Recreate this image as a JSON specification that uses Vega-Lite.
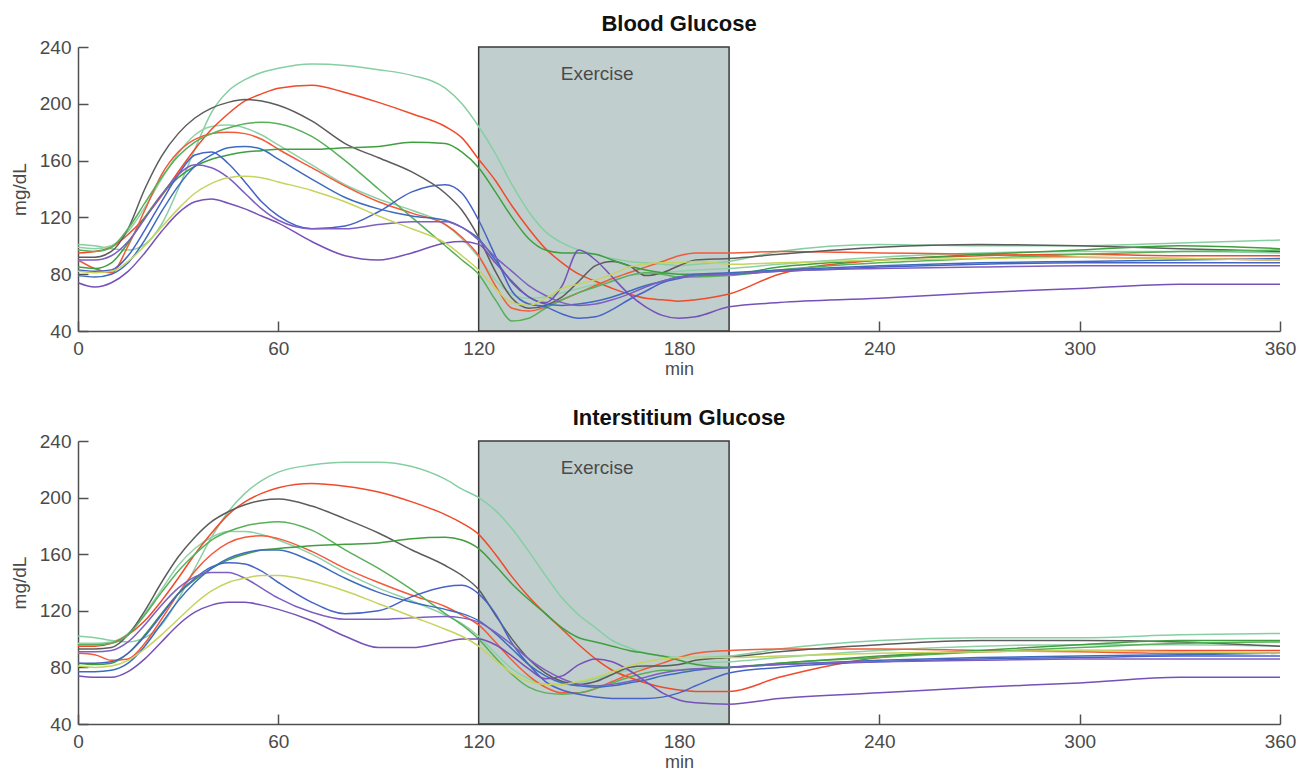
{
"$schema": "https://vega.github.io/schema/vega-lite/v6.json",
"background": "white",
"padding": {"left": 10, "top": 13, "right": 5, "bottom": 0},
"config": {
 "font": "Liberation Sans",
 "view": {"stroke": null},
 "axis": {"domainColor": "#505050", "tickColor": "#505050", "labelColor": "#4a4a4a", "titleColor": "#4a4a4a", "labelFontSize": 19, "titleFontSize": 19, "titleFontWeight": "normal", "grid": false, "tickSize": -10, "domainWidth": 1.5, "tickWidth": 1.5, "labelFlush": false, "labelOverlap": false},
 "axisX": {"labelPadding": 18, "titlePadding": 2, "titleFontSize": 18},
 "axisY": {"labelPadding": 17, "titlePadding": 10},
 "title": {"fontSize": 22, "fontWeight": "bold", "color": "#111111", "anchor": "middle", "offset": 2},
 "concat": {"spacing": 29}
},
"datasets": {
 "ex": [{"x": 120, "x2": 195, "y": 40, "y2": 240, "label": "Exercise", "tx": 155.5, "ty": 221}],
 "g": [
{"s":"S1","t":0,"b":101,"i":102},{"s":"S1","t":5,"b":100,"i":101},{"s":"S1","t":10,"b":98,"i":99},{"s":"S1","t":15,"b":97,"i":98},{"s":"S1","t":20,"b":101,"i":101},{"s":"S1","t":25,"b":115,"i":110},{"s":"S1","t":30,"b":140,"i":128},{"s":"S1","t":35,"b":168,"i":150},{"s":"S1","t":40,"b":194,"i":172},{"s":"S1","t":45,"b":209,"i":190},{"s":"S1","t":50,"b":217,"i":203},{"s":"S1","t":55,"b":222,"i":212},{"s":"S1","t":60,"b":225,"i":218},{"s":"S1","t":70,"b":228,"i":223},{"s":"S1","t":80,"b":227,"i":225},{"s":"S1","t":90,"b":224,"i":225},{"s":"S1","t":100,"b":220,"i":222},{"s":"S1","t":110,"b":211,"i":213},{"s":"S1","t":115,"b":200,"i":206},{"s":"S1","t":120,"b":184,"i":200},{"s":"S1","t":125,"b":165,"i":191},{"s":"S1","t":130,"b":143,"i":178},{"s":"S1","t":135,"b":124,"i":162},{"s":"S1","t":140,"b":110,"i":145},{"s":"S1","t":145,"b":102,"i":129},{"s":"S1","t":150,"b":97,"i":117},{"s":"S1","t":155,"b":94,"i":108},{"s":"S1","t":160,"b":91,"i":99},{"s":"S1","t":165,"b":89,"i":94},{"s":"S1","t":170,"b":88,"i":90},{"s":"S1","t":175,"b":87,"i":88},{"s":"S1","t":180,"b":86,"i":87},{"s":"S1","t":185,"b":87,"i":87},{"s":"S1","t":195,"b":89,"i":88},{"s":"S1","t":210,"b":96,"i":93},{"s":"S1","t":240,"b":101,"i":99},{"s":"S1","t":270,"b":100,"i":101},{"s":"S1","t":300,"b":100,"i":101},{"s":"S1","t":330,"b":102,"i":103},{"s":"S1","t":360,"b":104,"i":104},
{"s":"S2","t":0,"b":99,"i":97},{"s":"S2","t":5,"b":98,"i":97},{"s":"S2","t":10,"b":100,"i":98},{"s":"S2","t":15,"b":110,"i":104},{"s":"S2","t":20,"b":127,"i":118},{"s":"S2","t":25,"b":147,"i":135},{"s":"S2","t":30,"b":165,"i":152},{"s":"S2","t":35,"b":178,"i":164},{"s":"S2","t":40,"b":184,"i":172},{"s":"S2","t":45,"b":185,"i":176},{"s":"S2","t":50,"b":183,"i":176},{"s":"S2","t":55,"b":178,"i":174},{"s":"S2","t":60,"b":171,"i":170},{"s":"S2","t":70,"b":157,"i":160},{"s":"S2","t":80,"b":143,"i":147},{"s":"S2","t":90,"b":133,"i":136},{"s":"S2","t":100,"b":125,"i":127},{"s":"S2","t":110,"b":115,"i":117},{"s":"S2","t":115,"b":105,"i":111},{"s":"S2","t":120,"b":92,"i":102},{"s":"S2","t":125,"b":76,"i":90},{"s":"S2","t":130,"b":66,"i":79},{"s":"S2","t":135,"b":63,"i":72},{"s":"S2","t":140,"b":64,"i":68},{"s":"S2","t":145,"b":67,"i":68},{"s":"S2","t":150,"b":70,"i":69},{"s":"S2","t":155,"b":73,"i":72},{"s":"S2","t":160,"b":76,"i":75},{"s":"S2","t":165,"b":79,"i":78},{"s":"S2","t":170,"b":80,"i":80},{"s":"S2","t":175,"b":81,"i":81},{"s":"S2","t":180,"b":82,"i":82},{"s":"S2","t":185,"b":83,"i":83},{"s":"S2","t":195,"b":84,"i":84},{"s":"S2","t":210,"b":87,"i":87},{"s":"S2","t":240,"b":92,"i":92},{"s":"S2","t":270,"b":95,"i":95},{"s":"S2","t":300,"b":96,"i":96},{"s":"S2","t":330,"b":96,"i":96},{"s":"S2","t":360,"b":95,"i":95},
{"s":"R1","t":0,"b":95,"i":95},{"s":"R1","t":5,"b":96,"i":95},{"s":"R1","t":10,"b":99,"i":97},{"s":"R1","t":15,"b":108,"i":103},{"s":"R1","t":20,"b":120,"i":113},{"s":"R1","t":25,"b":135,"i":127},{"s":"R1","t":30,"b":152,"i":143},{"s":"R1","t":35,"b":168,"i":160},{"s":"R1","t":40,"b":182,"i":175},{"s":"R1","t":45,"b":193,"i":188},{"s":"R1","t":50,"b":202,"i":197},{"s":"R1","t":55,"b":207,"i":203},{"s":"R1","t":60,"b":211,"i":207},{"s":"R1","t":70,"b":213,"i":210},{"s":"R1","t":80,"b":208,"i":208},{"s":"R1","t":90,"b":201,"i":204},{"s":"R1","t":100,"b":193,"i":197},{"s":"R1","t":110,"b":184,"i":188},{"s":"R1","t":115,"b":176,"i":182},{"s":"R1","t":120,"b":161,"i":174},{"s":"R1","t":125,"b":146,"i":160},{"s":"R1","t":130,"b":128,"i":144},{"s":"R1","t":135,"b":112,"i":130},{"s":"R1","t":140,"b":98,"i":118},{"s":"R1","t":145,"b":88,"i":107},{"s":"R1","t":150,"b":80,"i":96},{"s":"R1","t":155,"b":75,"i":86},{"s":"R1","t":160,"b":70,"i":78},{"s":"R1","t":165,"b":66,"i":73},{"s":"R1","t":170,"b":63,"i":69},{"s":"R1","t":175,"b":62,"i":66},{"s":"R1","t":180,"b":61,"i":64},{"s":"R1","t":185,"b":62,"i":63},{"s":"R1","t":195,"b":66,"i":63},{"s":"R1","t":210,"b":80,"i":73},{"s":"R1","t":240,"b":90,"i":87},{"s":"R1","t":270,"b":93,"i":91},{"s":"R1","t":300,"b":94,"i":92},{"s":"R1","t":330,"b":93,"i":92},{"s":"R1","t":360,"b":93,"i":92},
{"s":"R2","t":0,"b":90,"i":90},{"s":"R2","t":5,"b":84,"i":89},{"s":"R2","t":10,"b":81,"i":85},{"s":"R2","t":15,"b":100,"i":86},{"s":"R2","t":20,"b":125,"i":97},{"s":"R2","t":25,"b":150,"i":114},{"s":"R2","t":30,"b":166,"i":132},{"s":"R2","t":35,"b":175,"i":148},{"s":"R2","t":40,"b":179,"i":160},{"s":"R2","t":45,"b":180,"i":168},{"s":"R2","t":50,"b":179,"i":172},{"s":"R2","t":55,"b":175,"i":173},{"s":"R2","t":60,"b":168,"i":171},{"s":"R2","t":70,"b":155,"i":162},{"s":"R2","t":80,"b":142,"i":150},{"s":"R2","t":90,"b":131,"i":140},{"s":"R2","t":100,"b":123,"i":131},{"s":"R2","t":110,"b":115,"i":123},{"s":"R2","t":115,"b":106,"i":117},{"s":"R2","t":120,"b":93,"i":110},{"s":"R2","t":125,"b":72,"i":98},{"s":"R2","t":130,"b":56,"i":85},{"s":"R2","t":135,"b":54,"i":74},{"s":"R2","t":140,"b":57,"i":66},{"s":"R2","t":145,"b":62,"i":62},{"s":"R2","t":150,"b":67,"i":62},{"s":"R2","t":155,"b":72,"i":65},{"s":"R2","t":160,"b":77,"i":70},{"s":"R2","t":165,"b":81,"i":75},{"s":"R2","t":170,"b":85,"i":79},{"s":"R2","t":175,"b":89,"i":83},{"s":"R2","t":180,"b":93,"i":87},{"s":"R2","t":185,"b":95,"i":90},{"s":"R2","t":195,"b":95,"i":92},{"s":"R2","t":210,"b":96,"i":93},{"s":"R2","t":240,"b":95,"i":93},{"s":"R2","t":270,"b":94,"i":92},{"s":"R2","t":300,"b":92,"i":91},{"s":"R2","t":330,"b":91,"i":90},{"s":"R2","t":360,"b":90,"i":90},
{"s":"K1","t":0,"b":92,"i":93},{"s":"K1","t":5,"b":92,"i":93},{"s":"K1","t":10,"b":96,"i":94},{"s":"K1","t":15,"b":112,"i":103},{"s":"K1","t":20,"b":140,"i":120},{"s":"K1","t":25,"b":163,"i":140},{"s":"K1","t":30,"b":179,"i":158},{"s":"K1","t":35,"b":190,"i":172},{"s":"K1","t":40,"b":197,"i":183},{"s":"K1","t":45,"b":201,"i":190},{"s":"K1","t":50,"b":203,"i":195},{"s":"K1","t":55,"b":202,"i":198},{"s":"K1","t":60,"b":199,"i":199},{"s":"K1","t":70,"b":188,"i":194},{"s":"K1","t":80,"b":172,"i":185},{"s":"K1","t":90,"b":162,"i":175},{"s":"K1","t":100,"b":152,"i":163},{"s":"K1","t":110,"b":137,"i":152},{"s":"K1","t":115,"b":125,"i":145},{"s":"K1","t":120,"b":106,"i":135},{"s":"K1","t":125,"b":82,"i":117},{"s":"K1","t":130,"b":63,"i":100},{"s":"K1","t":135,"b":56,"i":86},{"s":"K1","t":140,"b":58,"i":76},{"s":"K1","t":145,"b":64,"i":70},{"s":"K1","t":150,"b":75,"i":68},{"s":"K1","t":155,"b":86,"i":70},{"s":"K1","t":160,"b":89,"i":75},{"s":"K1","t":165,"b":86,"i":80},{"s":"K1","t":170,"b":79,"i":81},{"s":"K1","t":175,"b":81,"i":81},{"s":"K1","t":180,"b":86,"i":82},{"s":"K1","t":185,"b":90,"i":85},{"s":"K1","t":195,"b":91,"i":87},{"s":"K1","t":210,"b":94,"i":91},{"s":"K1","t":240,"b":99,"i":96},{"s":"K1","t":270,"b":101,"i":99},{"s":"K1","t":300,"b":100,"i":99},{"s":"K1","t":330,"b":98,"i":98},{"s":"K1","t":360,"b":96,"i":95},
{"s":"G1","t":0,"b":97,"i":96},{"s":"G1","t":5,"b":96,"i":96},{"s":"G1","t":10,"b":99,"i":97},{"s":"G1","t":15,"b":112,"i":103},{"s":"G1","t":20,"b":130,"i":117},{"s":"G1","t":25,"b":148,"i":133},{"s":"G1","t":30,"b":163,"i":148},{"s":"G1","t":35,"b":173,"i":160},{"s":"G1","t":40,"b":179,"i":170},{"s":"G1","t":45,"b":183,"i":176},{"s":"G1","t":50,"b":186,"i":180},{"s":"G1","t":55,"b":187,"i":182},{"s":"G1","t":60,"b":186,"i":183},{"s":"G1","t":70,"b":177,"i":177},{"s":"G1","t":80,"b":160,"i":163},{"s":"G1","t":90,"b":140,"i":150},{"s":"G1","t":100,"b":120,"i":135},{"s":"G1","t":110,"b":100,"i":118},{"s":"G1","t":115,"b":90,"i":110},{"s":"G1","t":120,"b":80,"i":100},{"s":"G1","t":125,"b":62,"i":87},{"s":"G1","t":130,"b":47,"i":75},{"s":"G1","t":135,"b":49,"i":66},{"s":"G1","t":140,"b":56,"i":62},{"s":"G1","t":145,"b":62,"i":61},{"s":"G1","t":150,"b":67,"i":62},{"s":"G1","t":155,"b":71,"i":65},{"s":"G1","t":160,"b":75,"i":69},{"s":"G1","t":165,"b":79,"i":73},{"s":"G1","t":170,"b":81,"i":76},{"s":"G1","t":175,"b":80,"i":78},{"s":"G1","t":180,"b":78,"i":78},{"s":"G1","t":185,"b":78,"i":79},{"s":"G1","t":195,"b":79,"i":80},{"s":"G1","t":210,"b":83,"i":83},{"s":"G1","t":240,"b":88,"i":87},{"s":"G1","t":270,"b":91,"i":91},{"s":"G1","t":300,"b":94,"i":94},{"s":"G1","t":330,"b":96,"i":97},{"s":"G1","t":360,"b":97,"i":98},
{"s":"G2","t":0,"b":85,"i":83},{"s":"G2","t":5,"b":84,"i":82},{"s":"G2","t":10,"b":88,"i":83},{"s":"G2","t":15,"b":102,"i":90},{"s":"G2","t":20,"b":120,"i":103},{"s":"G2","t":25,"b":136,"i":118},{"s":"G2","t":30,"b":148,"i":132},{"s":"G2","t":35,"b":156,"i":142},{"s":"G2","t":40,"b":161,"i":150},{"s":"G2","t":45,"b":164,"i":156},{"s":"G2","t":50,"b":166,"i":160},{"s":"G2","t":55,"b":167,"i":163},{"s":"G2","t":60,"b":168,"i":164},{"s":"G2","t":70,"b":168,"i":166},{"s":"G2","t":80,"b":169,"i":167},{"s":"G2","t":90,"b":170,"i":168},{"s":"G2","t":100,"b":173,"i":171},{"s":"G2","t":110,"b":172,"i":172},{"s":"G2","t":115,"b":166,"i":170},{"s":"G2","t":120,"b":155,"i":164},{"s":"G2","t":125,"b":138,"i":152},{"s":"G2","t":130,"b":120,"i":139},{"s":"G2","t":135,"b":105,"i":128},{"s":"G2","t":140,"b":97,"i":118},{"s":"G2","t":145,"b":95,"i":108},{"s":"G2","t":150,"b":95,"i":101},{"s":"G2","t":155,"b":94,"i":98},{"s":"G2","t":160,"b":90,"i":95},{"s":"G2","t":165,"b":86,"i":92},{"s":"G2","t":170,"b":83,"i":90},{"s":"G2","t":175,"b":81,"i":88},{"s":"G2","t":180,"b":80,"i":85},{"s":"G2","t":185,"b":80,"i":82},{"s":"G2","t":195,"b":80,"i":80},{"s":"G2","t":210,"b":85,"i":83},{"s":"G2","t":240,"b":90,"i":88},{"s":"G2","t":270,"b":94,"i":92},{"s":"G2","t":300,"b":97,"i":96},{"s":"G2","t":330,"b":100,"i":99},{"s":"G2","t":360,"b":98,"i":99},
{"s":"B1","t":0,"b":83,"i":83},{"s":"B1","t":5,"b":82,"i":83},{"s":"B1","t":10,"b":83,"i":84},{"s":"B1","t":15,"b":93,"i":90},{"s":"B1","t":20,"b":111,"i":102},{"s":"B1","t":25,"b":131,"i":117},{"s":"B1","t":30,"b":150,"i":132},{"s":"B1","t":35,"b":164,"i":143},{"s":"B1","t":40,"b":166,"i":151},{"s":"B1","t":45,"b":158,"i":154},{"s":"B1","t":50,"b":145,"i":153},{"s":"B1","t":55,"b":131,"i":148},{"s":"B1","t":60,"b":121,"i":140},{"s":"B1","t":70,"b":112,"i":126},{"s":"B1","t":80,"b":114,"i":118},{"s":"B1","t":90,"b":124,"i":120},{"s":"B1","t":100,"b":138,"i":130},{"s":"B1","t":110,"b":143,"i":137},{"s":"B1","t":115,"b":137,"i":138},{"s":"B1","t":120,"b":118,"i":132},{"s":"B1","t":125,"b":93,"i":118},{"s":"B1","t":130,"b":68,"i":97},{"s":"B1","t":135,"b":59,"i":82},{"s":"B1","t":140,"b":57,"i":70},{"s":"B1","t":145,"b":52,"i":64},{"s":"B1","t":150,"b":49,"i":61},{"s":"B1","t":155,"b":50,"i":59},{"s":"B1","t":160,"b":55,"i":58},{"s":"B1","t":165,"b":62,"i":58},{"s":"B1","t":170,"b":68,"i":58},{"s":"B1","t":175,"b":74,"i":59},{"s":"B1","t":180,"b":77,"i":62},{"s":"B1","t":185,"b":79,"i":67},{"s":"B1","t":195,"b":80,"i":76},{"s":"B1","t":210,"b":82,"i":80},{"s":"B1","t":240,"b":85,"i":84},{"s":"B1","t":270,"b":87,"i":86},{"s":"B1","t":300,"b":88,"i":87},{"s":"B1","t":330,"b":88,"i":88},{"s":"B1","t":360,"b":88,"i":88},
{"s":"B2","t":0,"b":79,"i":77},{"s":"B2","t":5,"b":78,"i":77},{"s":"B2","t":10,"b":80,"i":78},{"s":"B2","t":15,"b":88,"i":83},{"s":"B2","t":20,"b":104,"i":95},{"s":"B2","t":25,"b":124,"i":111},{"s":"B2","t":30,"b":142,"i":127},{"s":"B2","t":35,"b":156,"i":140},{"s":"B2","t":40,"b":164,"i":150},{"s":"B2","t":45,"b":169,"i":157},{"s":"B2","t":50,"b":170,"i":161},{"s":"B2","t":55,"b":168,"i":163},{"s":"B2","t":60,"b":161,"i":163},{"s":"B2","t":70,"b":147,"i":155},{"s":"B2","t":80,"b":134,"i":143},{"s":"B2","t":90,"b":126,"i":133},{"s":"B2","t":100,"b":121,"i":126},{"s":"B2","t":110,"b":118,"i":121},{"s":"B2","t":115,"b":113,"i":118},{"s":"B2","t":120,"b":105,"i":113},{"s":"B2","t":125,"b":90,"i":104},{"s":"B2","t":130,"b":74,"i":93},{"s":"B2","t":135,"b":64,"i":82},{"s":"B2","t":140,"b":59,"i":74},{"s":"B2","t":145,"b":58,"i":69},{"s":"B2","t":150,"b":59,"i":67},{"s":"B2","t":155,"b":61,"i":66},{"s":"B2","t":160,"b":64,"i":67},{"s":"B2","t":165,"b":68,"i":69},{"s":"B2","t":170,"b":72,"i":71},{"s":"B2","t":175,"b":75,"i":74},{"s":"B2","t":180,"b":78,"i":76},{"s":"B2","t":185,"b":80,"i":78},{"s":"B2","t":195,"b":81,"i":80},{"s":"B2","t":210,"b":83,"i":82},{"s":"B2","t":240,"b":86,"i":85},{"s":"B2","t":270,"b":88,"i":87},{"s":"B2","t":300,"b":89,"i":88},{"s":"B2","t":330,"b":90,"i":89},{"s":"B2","t":360,"b":91,"i":90},
{"s":"P1","t":0,"b":90,"i":91},{"s":"P1","t":5,"b":90,"i":91},{"s":"P1","t":10,"b":93,"i":92},{"s":"P1","t":15,"b":103,"i":98},{"s":"P1","t":20,"b":119,"i":110},{"s":"P1","t":25,"b":136,"i":124},{"s":"P1","t":30,"b":150,"i":136},{"s":"P1","t":35,"b":157,"i":144},{"s":"P1","t":40,"b":155,"i":147},{"s":"P1","t":45,"b":148,"i":147},{"s":"P1","t":50,"b":137,"i":143},{"s":"P1","t":55,"b":126,"i":136},{"s":"P1","t":60,"b":118,"i":129},{"s":"P1","t":70,"b":112,"i":119},{"s":"P1","t":80,"b":112,"i":114},{"s":"P1","t":90,"b":115,"i":114},{"s":"P1","t":100,"b":117,"i":115},{"s":"P1","t":110,"b":117,"i":116},{"s":"P1","t":115,"b":113,"i":115},{"s":"P1","t":120,"b":104,"i":112},{"s":"P1","t":125,"b":92,"i":105},{"s":"P1","t":130,"b":82,"i":96},{"s":"P1","t":135,"b":72,"i":86},{"s":"P1","t":140,"b":65,"i":78},{"s":"P1","t":145,"b":60,"i":72},{"s":"P1","t":150,"b":58,"i":68},{"s":"P1","t":155,"b":59,"i":67},{"s":"P1","t":160,"b":62,"i":68},{"s":"P1","t":165,"b":66,"i":70},{"s":"P1","t":170,"b":71,"i":73},{"s":"P1","t":175,"b":75,"i":76},{"s":"P1","t":180,"b":78,"i":78},{"s":"P1","t":185,"b":79,"i":79},{"s":"P1","t":195,"b":80,"i":80},{"s":"P1","t":210,"b":82,"i":82},{"s":"P1","t":240,"b":84,"i":84},{"s":"P1","t":270,"b":85,"i":85},{"s":"P1","t":300,"b":86,"i":86},{"s":"P1","t":330,"b":86,"i":86},{"s":"P1","t":360,"b":86,"i":86},
{"s":"P2","t":0,"b":74,"i":74},{"s":"P2","t":5,"b":71,"i":73},{"s":"P2","t":10,"b":74,"i":73},{"s":"P2","t":15,"b":82,"i":77},{"s":"P2","t":20,"b":95,"i":86},{"s":"P2","t":25,"b":110,"i":98},{"s":"P2","t":30,"b":123,"i":110},{"s":"P2","t":35,"b":131,"i":119},{"s":"P2","t":40,"b":133,"i":124},{"s":"P2","t":45,"b":130,"i":126},{"s":"P2","t":50,"b":126,"i":126},{"s":"P2","t":55,"b":121,"i":124},{"s":"P2","t":60,"b":116,"i":121},{"s":"P2","t":70,"b":103,"i":113},{"s":"P2","t":80,"b":93,"i":102},{"s":"P2","t":90,"b":90,"i":94},{"s":"P2","t":100,"b":95,"i":94},{"s":"P2","t":110,"b":102,"i":98},{"s":"P2","t":115,"b":103,"i":100},{"s":"P2","t":120,"b":101,"i":100},{"s":"P2","t":125,"b":88,"i":96},{"s":"P2","t":130,"b":75,"i":88},{"s":"P2","t":135,"b":64,"i":79},{"s":"P2","t":140,"b":60,"i":72},{"s":"P2","t":145,"b":72,"i":74},{"s":"P2","t":150,"b":97,"i":82},{"s":"P2","t":155,"b":90,"i":86},{"s":"P2","t":160,"b":78,"i":84},{"s":"P2","t":165,"b":66,"i":78},{"s":"P2","t":170,"b":57,"i":70},{"s":"P2","t":175,"b":51,"i":62},{"s":"P2","t":180,"b":49,"i":57},{"s":"P2","t":185,"b":50,"i":55},{"s":"P2","t":195,"b":57,"i":54},{"s":"P2","t":210,"b":60,"i":58},{"s":"P2","t":240,"b":63,"i":62},{"s":"P2","t":270,"b":67,"i":66},{"s":"P2","t":300,"b":70,"i":69},{"s":"P2","t":330,"b":73,"i":73},{"s":"P2","t":360,"b":73,"i":73},
{"s":"Y1","t":0,"b":82,"i":81},{"s":"Y1","t":5,"b":81,"i":80},{"s":"Y1","t":10,"b":82,"i":81},{"s":"Y1","t":15,"b":89,"i":85},{"s":"Y1","t":20,"b":100,"i":93},{"s":"Y1","t":25,"b":113,"i":103},{"s":"Y1","t":30,"b":126,"i":114},{"s":"Y1","t":35,"b":137,"i":125},{"s":"Y1","t":40,"b":144,"i":134},{"s":"Y1","t":45,"b":148,"i":140},{"s":"Y1","t":50,"b":149,"i":143},{"s":"Y1","t":55,"b":148,"i":145},{"s":"Y1","t":60,"b":145,"i":145},{"s":"Y1","t":70,"b":139,"i":141},{"s":"Y1","t":80,"b":131,"i":134},{"s":"Y1","t":90,"b":121,"i":125},{"s":"Y1","t":100,"b":112,"i":116},{"s":"Y1","t":110,"b":102,"i":107},{"s":"Y1","t":115,"b":93,"i":102},{"s":"Y1","t":120,"b":83,"i":95},{"s":"Y1","t":125,"b":70,"i":85},{"s":"Y1","t":130,"b":60,"i":76},{"s":"Y1","t":135,"b":58,"i":70},{"s":"Y1","t":140,"b":63,"i":68},{"s":"Y1","t":145,"b":70,"i":68},{"s":"Y1","t":150,"b":73,"i":70},{"s":"Y1","t":155,"b":76,"i":73},{"s":"Y1","t":160,"b":80,"i":77},{"s":"Y1","t":165,"b":85,"i":81},{"s":"Y1","t":170,"b":87,"i":84},{"s":"Y1","t":175,"b":88,"i":86},{"s":"Y1","t":180,"b":88,"i":87},{"s":"Y1","t":185,"b":89,"i":87},{"s":"Y1","t":195,"b":87,"i":87},{"s":"Y1","t":210,"b":88,"i":88},{"s":"Y1","t":240,"b":90,"i":90},{"s":"Y1","t":270,"b":91,"i":91},{"s":"Y1","t":300,"b":92,"i":92},{"s":"Y1","t":330,"b":91,"i":91},{"s":"Y1","t":360,"b":90,"i":90}
 ]
},
"vconcat": [
 {
  "width": 1202, "height": 284,
  "title": "Blood Glucose",
  "layer": [
   {"data": {"name": "ex"}, "mark": {"type": "rect", "fill": "#c0cfcd", "stroke": "#3a3a3a", "strokeWidth": 1.5},
    "encoding": {
     "x": {"field": "x", "type": "quantitative", "title": "min", "scale": {"domain": [0, 360], "nice": false}, "axis": {"values": [0, 60, 120, 180, 240, 300, 360]}},
     "x2": {"field": "x2"},
     "y": {"field": "y", "type": "quantitative", "title": "mg/dL", "scale": {"domain": [40, 240], "nice": false}, "axis": {"values": [40, 80, 120, 160, 200, 240]}},
     "y2": {"field": "y2"}}},
   {"data": {"name": "ex"}, "mark": {"type": "text", "fontSize": 19, "color": "#4a4a4a"},
    "encoding": {"x": {"field": "tx", "type": "quantitative", "title": "min"}, "y": {"field": "ty", "type": "quantitative", "title": "mg/dL"}, "text": {"field": "label"}}},
   {"data": {"name": "g"}, "mark": {"type": "line", "strokeWidth": 1.5, "interpolate": "monotone"},
    "encoding": {
     "x": {"field": "t", "type": "quantitative", "title": "min"},
     "y": {"field": "b", "type": "quantitative", "title": "mg/dL"},
     "color": {"field": "s", "type": "nominal", "legend": null, "scale": {"domain": ["S1","S2","R1","R2","K1","G1","G2","B1","B2","P1","P2","Y1"], "range": ["#86cfa3","#8fd1a6","#f04a2a","#f25a3a","#5c5c5c","#58b05a","#3f9f3f","#4663c6","#3d6cbf","#7d5fc2","#7651b8","#c6d35c"]}}}}
  ]
 },
 {
  "width": 1202, "height": 283,
  "title": "Interstitium Glucose",
  "layer": [
   {"data": {"name": "ex"}, "mark": {"type": "rect", "fill": "#c0cfcd", "stroke": "#3a3a3a", "strokeWidth": 1.5},
    "encoding": {
     "x": {"field": "x", "type": "quantitative", "title": "min", "scale": {"domain": [0, 360], "nice": false}, "axis": {"values": [0, 60, 120, 180, 240, 300, 360]}},
     "x2": {"field": "x2"},
     "y": {"field": "y", "type": "quantitative", "title": "mg/dL", "scale": {"domain": [40, 240], "nice": false}, "axis": {"values": [40, 80, 120, 160, 200, 240]}},
     "y2": {"field": "y2"}}},
   {"data": {"name": "ex"}, "mark": {"type": "text", "fontSize": 19, "color": "#4a4a4a"},
    "encoding": {"x": {"field": "tx", "type": "quantitative", "title": "min"}, "y": {"field": "ty", "type": "quantitative", "title": "mg/dL"}, "text": {"field": "label"}}},
   {"data": {"name": "g"}, "mark": {"type": "line", "strokeWidth": 1.5, "interpolate": "monotone"},
    "encoding": {
     "x": {"field": "t", "type": "quantitative", "title": "min"},
     "y": {"field": "i", "type": "quantitative", "title": "mg/dL"},
     "color": {"field": "s", "type": "nominal", "legend": null, "scale": {"domain": ["S1","S2","R1","R2","K1","G1","G2","B1","B2","P1","P2","Y1"], "range": ["#86cfa3","#8fd1a6","#f04a2a","#f25a3a","#5c5c5c","#58b05a","#3f9f3f","#4663c6","#3d6cbf","#7d5fc2","#7651b8","#c6d35c"]}}}}
  ]
 }
]
}
